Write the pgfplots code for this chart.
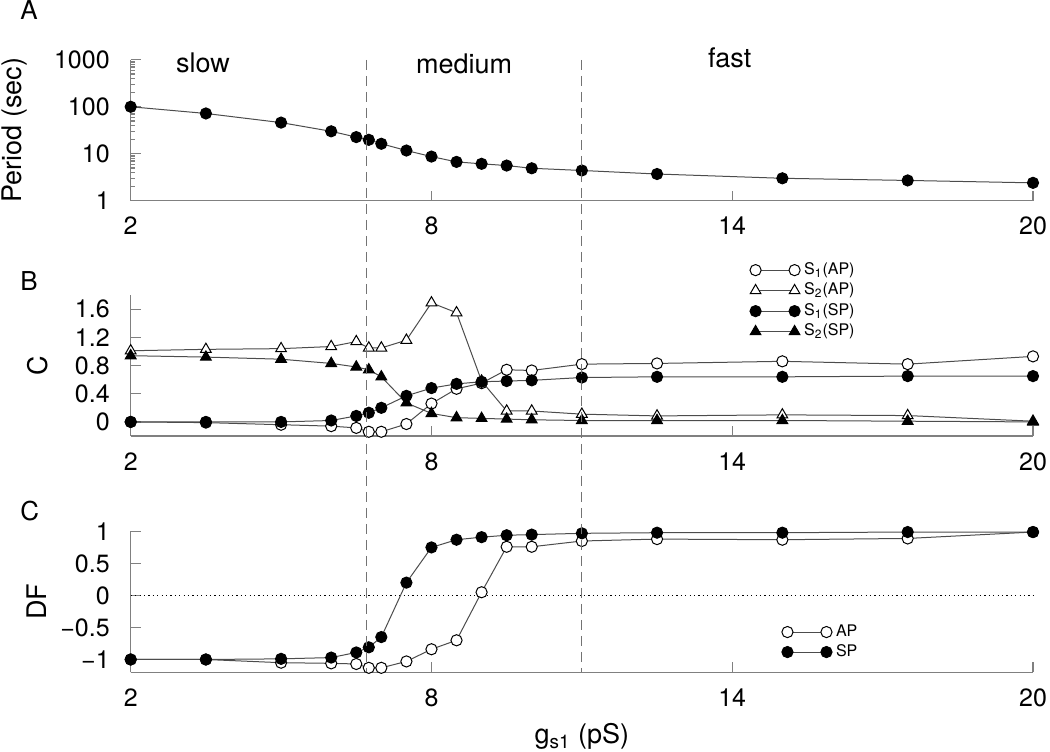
\documentclass[border=0pt]{standalone}
\usepackage{pgfplots}
\pgfplotsset{compat=1.18}
\usepackage{fontspec}
\setmainfont{TeX Gyre Heros}

\pgfplotsset{
  panel/.style={
    scale only axis, width=451.15pt, height=70.45pt,
    xmin=2, xmax=20, xtick={2,8,14,20}, xticklabels={2,8,14,20},
    axis x line*=bottom, axis y line*=left,
    axis line style={black!50, line width=0.65pt},
    every tick/.style={black!50, line width=0.65pt},
    major tick length=5pt, minor tick length=2.4pt,
    tick align=inside,
    ticklabel style={font=\fontsize{12.5}{15}\selectfont, text=black},
    xticklabel style={anchor=base, yshift=-17pt},
    yticklabel style={anchor=east, inner sep=0pt, xshift=-10.3pt},
    label style={font=\fontsize{13.5}{16}\selectfont},
    clip=false,
    legend image code/.code={\draw[##1] plot coordinates {(0pt,0pt) (19.5pt,0pt)};},
  },
  openc/.style={black!70, line width=0.5pt, mark=*, mark size=2.8pt, mark options={solid, draw=black, fill=white, line width=0.5pt}},
  fillc/.style={black!70, line width=0.5pt, mark=*, mark size=2.8pt, mark options={solid, draw=black, fill=black, line width=0.5pt}},
  opent/.style={black!70, line width=0.5pt, mark=triangle*, mark size=3.1pt, mark options={solid, draw=black, fill=white, line width=0.5pt}},
  fillt/.style={black!70, line width=0.5pt, mark=triangle*, mark size=3.1pt, mark options={solid, draw=black, fill=black, line width=0.5pt}},
  leg/.style={legend style={draw=none, fill=none, inner sep=0pt, outer sep=0pt, anchor=north west,
      font=\fontsize{8}{9.6}\selectfont, nodes={inner sep=0.5pt, text height=6pt, text depth=2pt},
      /tikz/every odd column/.append style={column sep=1.5pt}}, legend cell align=left},
}

\begin{document}
\begin{tikzpicture}
\useasboundingbox (0,0) rectangle (525pt,375.5pt);

% ---------------- Panel A ----------------
\begin{axis}[panel, at={(65.35pt,275.15pt)}, anchor=south west,
  ymode=log, ymin=1, ymax=1000,
  ytick={1,10,100,1000}, yticklabels={1,10,100,1000},
  minor ytick={2,3,4,5,6,7,8,9,20,30,40,50,60,70,80,90,200,300,400,500,600,700,800,900},
  ylabel={Period (sec)}, ylabel style={at={(axis description cs:-0.1293,0.5)}, anchor=center}]
\addplot[fillc] coordinates {(2,100)(3.5,72)(5,46)(6,30)(6.5,22.6)(6.75,19.8)(7,16.3)(7.5,11.7)(8,8.7)(8.5,6.7)(9,6.1)(9.5,5.6)(10,4.9)(11,4.4)(12.5,3.7)(15,3.0)(17.5,2.7)(20,2.4)};
\node[anchor=base, font=\fontsize{13.5}{16}\selectfont, inner sep=0pt] at (axis cs:3.44,530) {slow};
\node[anchor=base, font=\fontsize{13.5}{16}\selectfont, inner sep=0pt] at (axis cs:8.65,500) {medium};
\node[anchor=base, font=\fontsize{13.5}{16}\selectfont, inner sep=0pt] at (axis cs:13.95,676) {fast};
\coordinate (dA1) at (axis cs:6.7,1000);
\coordinate (dA2) at (axis cs:11,1000);
\end{axis}

% ---------------- Panel B ----------------
\begin{axis}[panel, leg, at={(65.35pt,157.5pt)}, anchor=south west,
  ymin=-0.2, ymax=1.8, ytick={0,0.4,0.8,1.2,1.6}, yticklabels={0,0.4,0.8,1.2,1.6},
  ylabel={C}, ylabel style={at={(axis description cs:-0.1033,0.5)}, anchor=center},
  legend style={at={(axis cs:14.354,2.282)}, row sep=1.25pt}]
\addplot[openc] coordinates {(2,0)(3.5,-0.01)(5,-0.04)(6,-0.06)(6.5,-0.085)(6.75,-0.14)(7,-0.14)(7.5,-0.03)(8,0.26)(8.5,0.47)(9,0.55)(9.5,0.74)(10,0.73)(11,0.82)(12.5,0.83)(15,0.86)(17.5,0.82)(20,0.93)};
\addplot[opent] coordinates {(2,1.01)(3.5,1.03)(5,1.04)(6,1.07)(6.5,1.14)(6.75,1.05)(7,1.05)(7.5,1.16)(8,1.69)(8.5,1.55)(9,0.58)(9.5,0.155)(10,0.155)(11,0.11)(12.5,0.085)(15,0.1)(17.5,0.09)(20,0.01)};
\addplot[fillc] coordinates {(2,0)(3.5,0)(5,0)(6,0.02)(6.5,0.085)(6.75,0.13)(7,0.2)(7.5,0.37)(8,0.48)(8.5,0.54)(9,0.57)(9.5,0.58)(10,0.59)(11,0.63)(12.5,0.64)(15,0.64)(17.5,0.65)(20,0.65)};
\addplot[fillt] coordinates {(2,0.94)(3.5,0.92)(5,0.89)(6,0.83)(6.5,0.78)(6.75,0.74)(7,0.64)(7.5,0.27)(8,0.12)(8.5,0.06)(9,0.05)(9.5,0.04)(10,0.03)(11,0.02)(12.5,0.02)(15,0.02)(17.5,0.01)(20,0.0)};
\legend{S\textsubscript{1}(AP),S\textsubscript{2}(AP),S\textsubscript{1}(SP),S\textsubscript{2}(SP)}
\end{axis}

% ---------------- Panel C ----------------
\begin{axis}[panel, leg, at={(65.35pt,39.35pt)}, anchor=south west,
  ymin=-1.2, ymax=1, ytick={-1,-0.5,0,0.5,1}, yticklabels={−1,−0.5,0,0.5,1},
  ylabel={DF}, ylabel style={at={(axis description cs:-0.1039,0.5)}, anchor=center},
  xlabel={g\textsubscript{s1} (pS)}, xlabel style={at={(axis description cs:0.5,-0.508)}, anchor=base},
  legend style={at={(axis cs:14.99,-0.431)}, row sep=1pt}]
\addplot[black, line width=0.45pt, dash pattern=on 0.6pt off 1.6pt, forget plot] coordinates {(2,0)(20,0)};
\addplot[openc] coordinates {(2,-1)(3.5,-1)(5,-1.05)(6,-1.06)(6.5,-1.07)(6.75,-1.13)(7,-1.13)(7.5,-1.03)(8,-0.84)(8.5,-0.70)(9,0.05)(9.5,0.76)(10,0.76)(11,0.85)(12.5,0.88)(15,0.87)(17.5,0.89)(20,0.99)};
\addplot[fillc] coordinates {(2,-1)(3.5,-1)(5,-0.99)(6,-0.97)(6.5,-0.89)(6.75,-0.81)(7,-0.65)(7.5,0.2)(8,0.75)(8.5,0.87)(9,0.91)(9.5,0.94)(10,0.95)(11,0.97)(12.5,0.98)(15,0.98)(17.5,0.99)(20,0.99)};
\legend{AP,SP}
\coordinate (dC1) at (axis cs:6.7,-1.2);
\coordinate (dC2) at (axis cs:11,-1.2);
\end{axis}

\draw[black!55, line width=0.5pt, dash pattern=on 5pt off 3pt] (dA1) -- (dC1);
\draw[black!55, line width=0.5pt, dash pattern=on 5pt off 3pt] (dA2) -- (dC2);

\node[anchor=base west, inner sep=0pt, font=\fontsize{13}{15}\selectfont] at (10pt,365.5pt) {A};
\node[anchor=base west, inner sep=0pt, font=\fontsize{13}{15}\selectfont] at (10pt,230pt) {B};
\node[anchor=base west, inner sep=0pt, font=\fontsize{13}{15}\selectfont] at (10pt,115.5pt) {C};
\end{tikzpicture}
\end{document}
